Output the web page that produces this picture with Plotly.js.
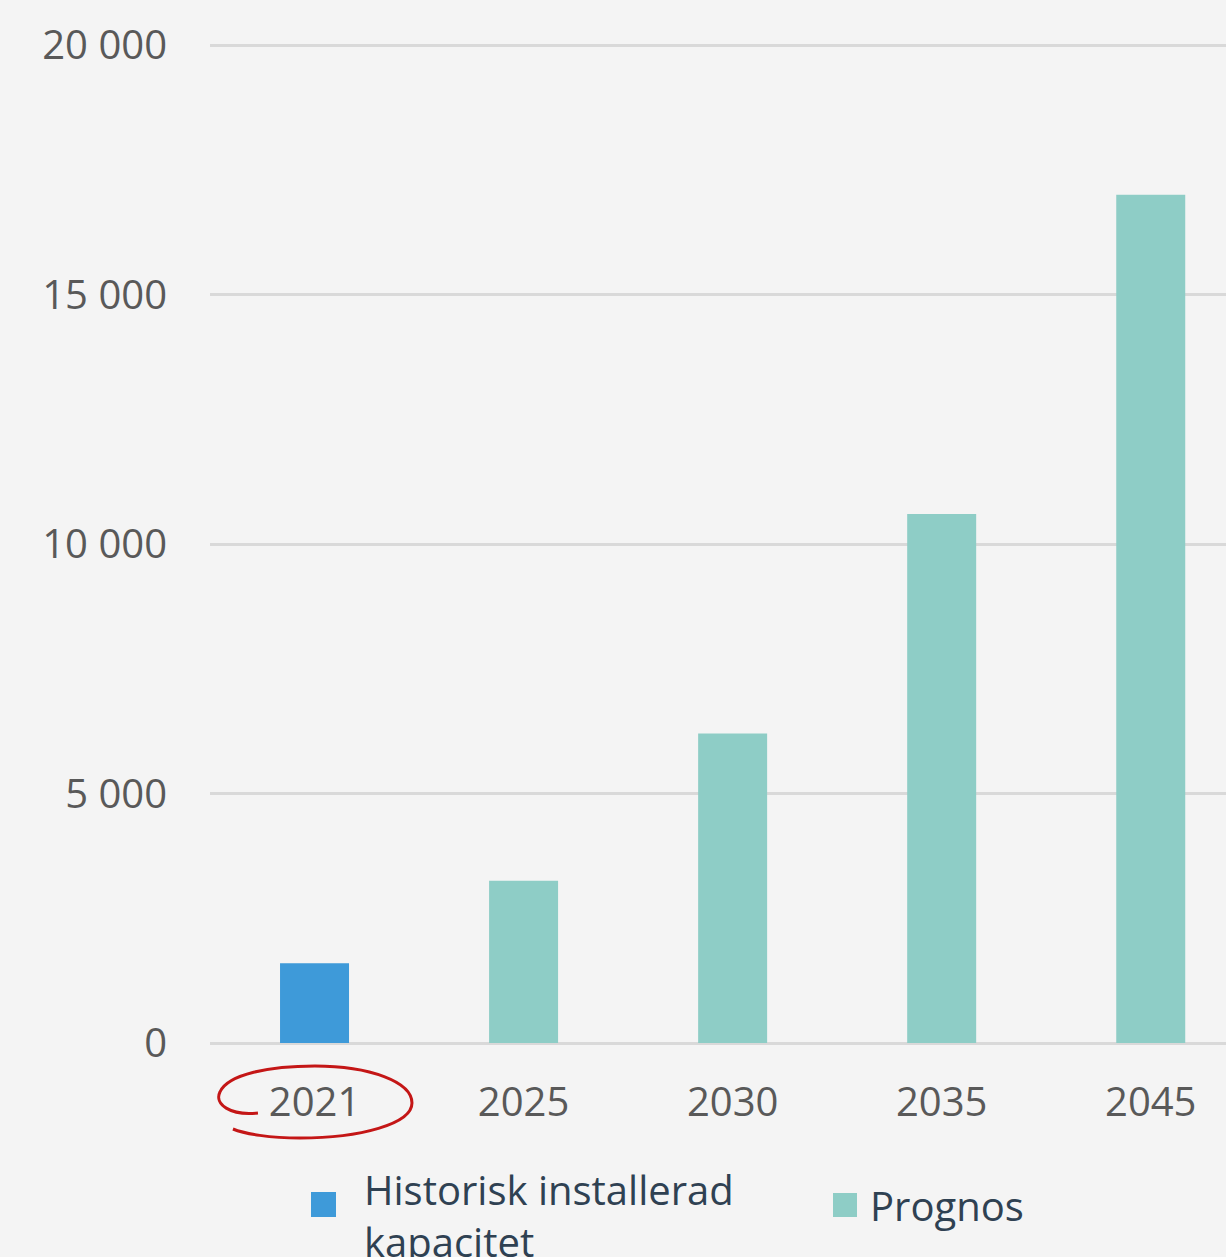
<!DOCTYPE html>
<html>
<head>
<meta charset="utf-8">
<script src="https://cdn.plot.ly/plotly-3.0.1.min.js"></script>
<style>
html,body{margin:0;padding:0;background:#f4f4f4;overflow:hidden;}
#chart{width:1226px;height:1257px;}
</style>
</head>
<body>
<div id="chart"></div>
<script>
const years = ['2021', '2025', '2030', '2035', '2045'];
const historiskName = 'Historisk installerad<br>kapacitet';
const prognosName = 'Prognos';
const historiskValues = [1600, null, null, null, null];
const prognosValues = [null, 3250, 6200, 10600, 17000];
const yTickVals = [0, 5000, 10000, 15000, 20000];
const yTickText = ['0', '5 000', '10 000', '15 000', '20 000'];
const historiskColor = '#3e9ad9';
const prognosColor = '#8ecdc6';

const W = 1226, H = 1257;
const M = {l: 210, r: 0, t: 43, b: 214};
const pw = W - M.l - M.r, ph = H - M.t - M.b;
function px(x){ return +((x - M.l) / pw).toFixed(4); }
function py(y){ return +((H - M.b - y) / ph).toFixed(4); }
function pt(x, y){ return px(x) + ',' + py(y); }

const ellipsePath =
  'M' + pt(258,1113) +
  ' C' + pt(230,1116) + ' ' + pt(214,1104) + ' ' + pt(220,1092) +
  ' C' + pt(228,1074) + ' ' + pt(270,1066) + ' ' + pt(315,1066) +
  ' C' + pt(370,1066) + ' ' + pt(412,1082) + ' ' + pt(412,1103) +
  ' C' + pt(412,1124) + ' ' + pt(360,1138) + ' ' + pt(300,1138) +
  ' C' + pt(270,1138) + ' ' + pt(245,1134) + ' ' + pt(233,1129);

const traces = [
  {type: 'bar', name: historiskName, x: years, y: historiskValues,
   marker: {color: historiskColor}, width: 0.33, showlegend: false},
  {type: 'bar', name: prognosName, x: years, y: prognosValues,
   marker: {color: prognosColor}, width: 0.33, showlegend: false}
];

const legendFont = {family: 'Open Sans, sans-serif', size: 40, color: '#2f4152'};

const layout = {
  width: W, height: H,
  margin: M,
  paper_bgcolor: '#f4f4f4', plot_bgcolor: '#f4f4f4',
  barmode: 'overlay',
  font: {family: 'Open Sans, sans-serif', size: 40, color: '#595959'},
  xaxis: {type: 'category', range: [-0.5, 4.36], showgrid: false, zeroline: false,
          showline: false, ticks: '', tickfont: {size: 40, color: '#595959'}, ticklabelstandoff: 32},
  yaxis: {range: [0, 20040], tickvals: yTickVals, ticktext: yTickText,
          showgrid: true, gridcolor: '#d9d9d9', gridwidth: 3, zeroline: true,
          zerolinecolor: '#d9d9d9', zerolinewidth: 3, showline: false, ticks: '',
          tickfont: {size: 40, color: '#595959'}, ticklabelstandoff: 42},
  showlegend: false,
  shapes: [
    {type: 'path', xref: 'paper', yref: 'paper', path: ellipsePath,
     line: {color: '#c41616', width: 3}, fillcolor: 'rgba(0,0,0,0)'},
    {type: 'rect', xref: 'paper', yref: 'paper', x0: px(311), x1: px(336), y0: py(1217), y1: py(1192),
     fillcolor: historiskColor, line: {width: 0}},
    {type: 'rect', xref: 'paper', yref: 'paper', x0: px(833), x1: px(857), y0: py(1217), y1: py(1193),
     fillcolor: prognosColor, line: {width: 0}}
  ],
  annotations: [
    {xref: 'paper', yref: 'paper', x: px(362), y: py(1215), xanchor: 'left', yanchor: 'middle',
     text: historiskName, showarrow: false, align: 'left', font: legendFont},
    {xref: 'paper', yref: 'paper', x: px(868), y: py(1205), xanchor: 'left', yanchor: 'middle',
     text: prognosName, showarrow: false, align: 'left', font: legendFont}
  ]
};

Plotly.newPlot('chart', traces, layout, {displayModeBar: false, staticPlot: true});
</script>
</body>
</html>
